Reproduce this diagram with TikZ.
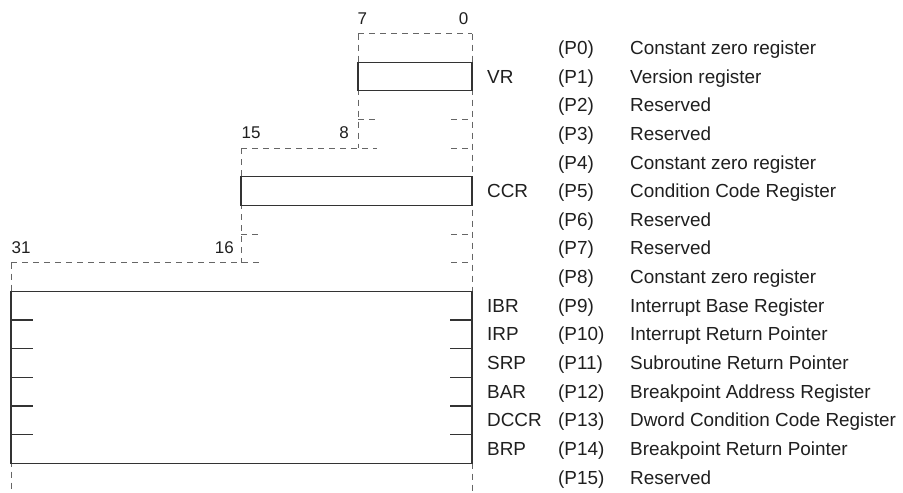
\documentclass[tikz,border=0pt]{standalone}
\usepackage{fontspec}
\setmainfont{Liberation Sans}
\begin{document}
\begin{tikzpicture}[x=1pt,y=-1pt,
  boxline/.style={draw=black!80,line width=1.2pt},
  dashline/.style={draw=black!60,line width=0.8pt,dash pattern=on 6pt off 5pt},
  txt/.style={anchor=base west,inner sep=0pt,text=black!88,font=\fontsize{18.9}{22}\selectfont},
  bitnum/.style={inner sep=0pt,text=black!88,font=\fontsize{17}{20}\selectfont}]
\useasboundingbox (0,0) rectangle (903,493);
\def\H{28.65}
\def\T{33.5}
% dashed outlines
\draw[dashline] (358,\T) -- (472,\T);
\draw[dashline] (472,\T) -- (472,493);
\draw[dashline] (358,\T) -- (358,{\T+4*\H});
\draw[dashline] (358,{\T+3*\H}) -- (377,{\T+3*\H});
\draw[dashline] (451,{\T+3*\H}) -- (472,{\T+3*\H});
\draw[dashline] (241,{\T+4*\H}) -- (377,{\T+4*\H});
\draw[dashline] (451,{\T+4*\H}) -- (472,{\T+4*\H});
\draw[dashline] (241,{\T+4*\H}) -- (241,{\T+8*\H});
\draw[dashline] (241,{\T+7*\H}) -- (261,{\T+7*\H});
\draw[dashline] (451,{\T+7*\H}) -- (472,{\T+7*\H});
\draw[dashline] (11,{\T+8*\H}) -- (261,{\T+8*\H});
\draw[dashline] (451,{\T+8*\H}) -- (472,{\T+8*\H});
\draw[dashline] (11,{\T+8*\H}) -- (11,493);
% solid boxes
\draw[boxline,fill=white] (358,{\T+1*\H}) rectangle (472,{\T+2*\H});
\draw[boxline,fill=white] (241,{\T+5*\H}) rectangle (472,{\T+6*\H});
\draw[boxline,fill=white] (11,{\T+9*\H}) rectangle (472,{\T+15*\H});
\foreach \k in {10,...,14}{
  \draw[boxline] (11,{\T+\k*\H}) -- (33,{\T+\k*\H});
  \draw[boxline] (450,{\T+\k*\H}) -- (472,{\T+\k*\H});
}
% bit numbers
\node[bitnum,anchor=base west] (b7) at (357.5,24.5) {7};
\node[bitnum,anchor=base east] (b0) at (468.5,24.5) {0};
\node[bitnum,anchor=base west] (b15) at (241.5,138.5) {15};
\node[bitnum,anchor=base east] (b8) at (349,138.5) {8};
\node[bitnum,anchor=base west] (b31) at (11.5,253.5) {31};
\node[bitnum,anchor=base east] (b16) at (234,253.5) {16};
% register names
\foreach \k/\n in {1/VR,5/CCR,9/IBR,10/IRP,11/SRP,12/BAR,13/DCCR,14/BRP}{
  \node[txt] (n\k) at (487,{\T+(\k+0.5)*\H+6.6}) {\n};
}
% register numbers and descriptions
\foreach \k/\d in {0/Constant zero register,1/Version register,2/Reserved,3/Reserved,
  4/Constant zero register,5/Condition Code Register,6/Reserved,7/Reserved,
  8/Constant zero register,9/Interrupt Base Register,10/Interrupt Return Pointer,
  11/Subroutine Return Pointer,12/Breakpoint Address Register,
  13/Dword Condition Code Register,14/Breakpoint Return Pointer,15/Reserved}{
  \node[txt] (p\k) at (558,{\T+(\k+0.5)*\H+6.6}) {(P\k)};
  \node[txt] (d\k) at (630,{\T+(\k+0.5)*\H+6.6}) {\d};
}
\end{tikzpicture}
\end{document}
